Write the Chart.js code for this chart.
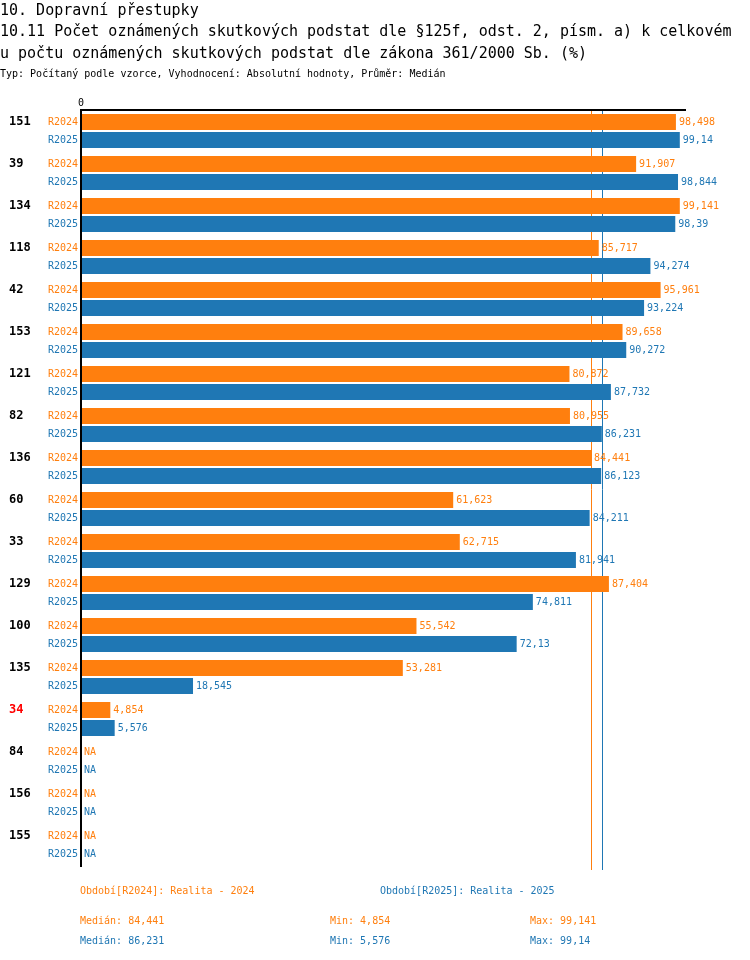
<!DOCTYPE html>
<html lang="cs">
<head>
<meta charset="utf-8">
<title>10.11 Počet oznámených skutkových podstat</title>
<script src="https://cdn.jsdelivr.net/npm/chart.js@4.4.1/dist/chart.umd.min.js"></script>
<style>
  html, body { margin: 0; padding: 0; background: #fff; }
  body { width: 750px; height: 960px; position: relative; overflow: hidden;
         font-family: "DejaVu Sans Mono", monospace; }
  .t { position: absolute; white-space: nowrap; line-height: 20px; }
  .h { font-size: 15px; color: #000; left: 0; }
  .s { font-size: 10px; color: #000; left: 0; }
  .leg { font-size: 10px; }
  .o { color: #ff7f0e; }
  .b { color: #1f77b4; }
  #wrap { position: absolute; left: 0; top: 0; }
</style>
</head>
<body>
<div id="wrap"><canvas id="barChart" width="750" height="960"></canvas></div>

<div class="t h" style="top:0px">10. Dopravní přestupky</div>
<div class="t h" style="top:21px">10.11 Počet oznámených skutkových podstat dle §125f, odst. 2, písm. a) k celkovém</div>
<div class="t h" style="top:43px">u počtu oznámených skutkových podstat dle zákona 361/2000 Sb. (%)</div>
<div class="t s" style="top:64px">Typ: Počítaný podle vzorce, Vyhodnocení: Absolutní hodnoty, Průměr: Medián</div>

<div id="legend"></div>

<script>
// ====== DATA ======
const groups = ['151','39','134','118','42','153','121','82','136','60','33','129','100','135','34','84','156','155'];
const r2024 = [98.498, 91.907, 99.141, 85.717, 95.961, 89.658, 80.872, 80.955, 84.441, 61.623, 62.715, 87.404, 55.542, 53.281, 4.854, null, null, null];
const r2025 = [99.14, 98.844, 98.39, 94.274, 93.224, 90.272, 87.732, 86.231, 86.123, 84.211, 81.941, 74.811, 72.13, 18.545, 5.576, null, null, null];
const seriesNames = ['R2024', 'R2025'];
const seriesTitles = ['Období[R2024]: Realita - 2024', 'Období[R2025]: Realita - 2025'];
const medians = [84.441, 86.231];
const mins = [4.854, 5.576];
const maxs = [99.141, 99.14];
const highlighted = ['34'];
const xTicks = [0];

const ORANGE = '#ff7f0e';
const BLUE = '#1f77b4';
const seriesColors = [ORANGE, BLUE];
const FONT = '"DejaVu Sans Mono", monospace';

const fmt = v => v == null ? 'NA' : String(v).replace('.', ',');

// ====== LEGEND (HTML) ======
function buildLegend() {
  const el = document.getElementById('legend');
  const cls = ['o', 'b'];
  let html = '';
  seriesTitles.forEach((t, k) => {
    html += `<div class="t leg ${cls[k]}" style="left:${80 + k * 300}px;top:881px">${t}</div>`;
  });
  seriesNames.forEach((n, k) => {
    const top = 911 + k * 20;
    html += `<div class="t leg ${cls[k]}" style="left:80px;top:${top}px">Medián: ${fmt(medians[k])}</div>`;
    html += `<div class="t leg ${cls[k]}" style="left:330px;top:${top}px">Min: ${fmt(mins[k])}</div>`;
    html += `<div class="t leg ${cls[k]}" style="left:530px;top:${top}px">Max: ${fmt(maxs[k])}</div>`;
  });
  el.innerHTML = html;
}

// ====== PLUGINS ======
const medianLines = {
  id: 'medianLines',
  beforeDatasetsDraw(chart) {
    const { ctx, chartArea, scales: { x } } = chart;
    ctx.save();
    ctx.lineWidth = 1;
    medians.forEach((m, k) => {
      const px = Math.round(x.getPixelForValue(m)) + 0.5;
      ctx.strokeStyle = seriesColors[k];
      ctx.beginPath();
      ctx.moveTo(px, chartArea.top - 1);
      ctx.lineTo(px, chartArea.bottom + 4);
      ctx.stroke();
    });
    ctx.restore();
  }
};

const barLabels = {
  id: 'barLabels',
  afterDatasetsDraw(chart) {
    const { ctx, scales: { x } } = chart;
    const zero = x.getPixelForValue(0);
    ctx.save();
    ctx.textBaseline = 'middle';
    chart.data.datasets.forEach((ds, k) => {
      const meta = chart.getDatasetMeta(k);
      meta.data.forEach((bar, i) => {
        const v = ds.data[i];
        const y = bar.y;
        ctx.font = '10px ' + FONT;
        ctx.fillStyle = seriesColors[k];
        ctx.textAlign = 'right';
        ctx.fillText(seriesNames[k], zero - 3, y);
        ctx.textAlign = 'left';
        ctx.fillText(fmt(v), v == null ? zero + 3 : bar.x + 3, y);
        if (k === 0) {
          const g = chart.data.labels[i];
          ctx.font = 'bold 12px ' + FONT;
          ctx.fillStyle = highlighted.includes(g) ? '#ff0000' : '#000';
          ctx.fillText(g, 9, y);
        }
      });
    });
    ctx.restore();
  }
};

// ====== CHART.JS INITIALIZATION ======
function initBarChart() {
  const ctx = document.getElementById('barChart');
  new Chart(ctx, {
    type: 'bar',
    data: {
      labels: groups,
      datasets: [
        { label: seriesNames[0], data: r2024, backgroundColor: ORANGE,
          categoryPercentage: 0.857, barPercentage: 0.89 },
        { label: seriesNames[1], data: r2025, backgroundColor: BLUE,
          categoryPercentage: 0.857, barPercentage: 0.89 }
      ]
    },
    options: {
      indexAxis: 'y',
      responsive: false,
      animation: false,
      layout: { padding: { left: 81, top: 98, right: 65, bottom: 94 } },
      plugins: { legend: { display: false }, tooltip: { enabled: false } },
      scales: {
        x: {
          position: 'top',
          min: 0,
          max: 100,
          grid: { display: false, drawTicks: false },
          border: { display: true, color: '#000', width: 2, z: 1 },
          ticks: {
            stepSize: 100,
            autoSkip: false,
            maxRotation: 0,
            padding: 1,
            callback: v => xTicks.includes(v) ? String(v) : '',
            font: { family: FONT, size: 10 },
            color: '#000'
          },
          afterFit: s => { s.height = 12; }
        },
        y: {
          grid: { display: false, drawTicks: false },
          border: { display: true, color: '#000', width: 2, z: 1 },
          ticks: { display: false },
          afterFit: s => { s.width = 0; }
        }
      }
    },
    plugins: [medianLines, barLabels]
  });
}

buildLegend();
initBarChart();
</script>
</body>
</html>
